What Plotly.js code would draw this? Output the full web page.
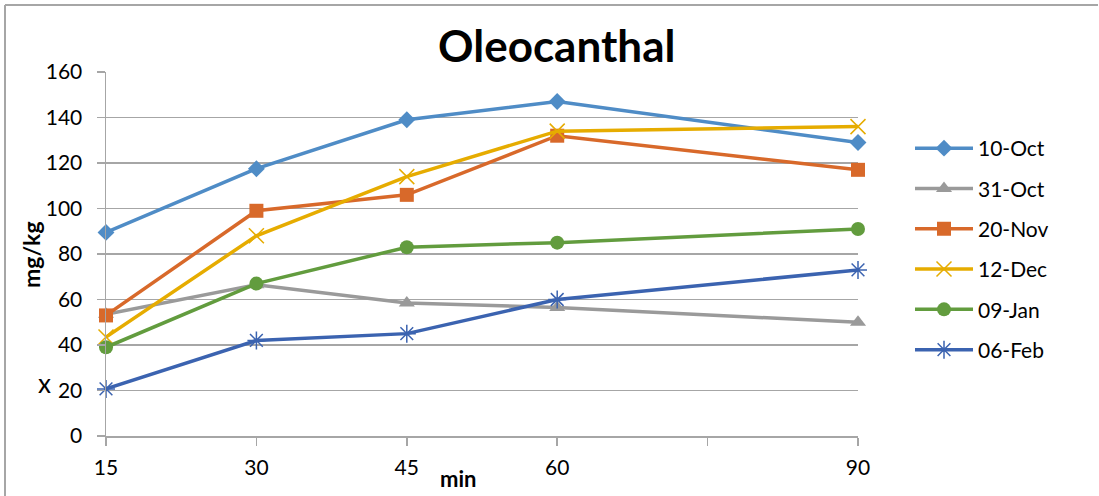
<!DOCTYPE html>
<html>
<head>
<meta charset="utf-8">
<script src="https://cdn.plot.ly/plotly-3.0.1.min.js"></script>
<style>
html,body{margin:0;padding:0;background:#fff;}
#chart{width:1099px;height:496px;}
</style>
</head>
<body>
<div id="chart"></div>
<script>
const minutes = [15, 30, 45, 60, 90];
const seriesNames = ["10-Oct", "31-Oct", "20-Nov", "12-Dec", "09-Jan", "06-Feb"];
const oct10 = [89.5, 117.5, 139, 147, 129];
const oct31 = [53.5, 66.5, 58.5, 56.5, 50];
const nov20 = [53, 99, 106, 132, 117];
const dec12 = [43.5, 88, 114, 134, 136];
const jan09 = [39, 67, 83, 85, 91];
const feb06 = [20.7, 42, 45, 60, 73];
const xTickVals = [15, 30, 45, 60, 75, 90];
const xTickText = ["15", "30", "45", "60", "", "90"];

const values = [oct10, oct31, nov20, dec12, jan09, feb06];
const colors = ["#4F8CC6", "#9A9A9A", "#D8692A", "#E6AC00", "#629C3E", "#3B63B0"];
const symbols = ["diamond", "triangle-up", "square", "x-thin-open", "circle", "asterisk-open"];
const sizes = [13, 14, 14, 15, 14, 15];

const font = "Lato, 'Open Sans', sans-serif";
const traces = seriesNames.map((n, i) => ({
  x: minutes, y: values[i], name: n, type: "scatter", mode: "lines+markers",
  line: {color: colors[i], width: 3.5},
  marker: {symbol: symbols[i], size: sizes[i], color: colors[i], line: {color: colors[i], width: (i===3||i===5)?1.5:0}},
  cliponaxis: false, legendgroup: "g" + i
}));

const L = 106, R = 858, T = 72, B = 436;
const px = v => (v - L) / (R - L);
const py = v => (B - v) / (B - T);

const layout = {
  width: 1099, height: 496,
  margin: {l: L, r: 1099 - R, t: T, b: 496 - B},
  paper_bgcolor: "#fff", plot_bgcolor: "#fff",
  font: {family: font, size: 21, color: "#000"},
  showlegend: true,
  legend: {x: px(910), y: py(128), xanchor: "left", yanchor: "top", font: {size: 21},
           traceorder: "grouped", tracegroupgap: 10, itemwidth: 58, bgcolor: "rgba(0,0,0,0)"},
  xaxis: {range: [15, 90], tickvals: xTickVals, ticktext: xTickText, showgrid: false,
          showline: true, linecolor: "#A6A6A6", linewidth: 1.5, ticks: "outside", ticklen: 8,
          tickcolor: "#A6A6A6", tickwidth: 1.5, zeroline: false, tickfont: {size: 21},
          ticklabelstandoff: 4},
  yaxis: {range: [0, 160], dtick: 20, tick0: 0, showgrid: true, gridcolor: "#A6A6A6", gridwidth: 1.5,
          showline: true, linecolor: "#A6A6A6", linewidth: 1.5, ticks: "outside", ticklen: 8,
          tickcolor: "#A6A6A6", tickwidth: 1.5, zeroline: false, tickfont: {size: 21},
          ticklabelstandoff: 10},
  annotations: [
    {text: "<b>Oleocanthal</b>", xref: "paper", yref: "paper", x: px(556), y: py(45), showarrow: false,
     font: {size: 44}, xanchor: "center", yanchor: "middle"},
    {text: "<b>mg/kg</b>", xref: "paper", yref: "paper", x: px(31), y: py(255), showarrow: false,
     textangle: -90, font: {size: 23}, xanchor: "center", yanchor: "middle"},
    {text: "<b>min</b>", xref: "paper", yref: "paper", x: px(458), y: py(478), showarrow: false,
     font: {size: 22}, xanchor: "center", yanchor: "middle"},
    {text: "x", xref: "paper", yref: "paper", x: px(44), y: py(383), showarrow: false,
     font: {size: 26}, xanchor: "center", yanchor: "middle"}
  ],
  shapes: [
    {type: "line", xref: "paper", yref: "paper", x0: px(5), x1: px(1098), y0: py(5), y1: py(5),
     line: {color: "#A6A6A6", width: 2}},
    {type: "line", xref: "paper", yref: "paper", x0: px(5), x1: px(5), y0: py(5), y1: py(496),
     line: {color: "#A6A6A6", width: 2}}
  ]
};
Plotly.newPlot("chart", traces, layout, {displayModeBar: false, staticPlot: true});
</script>
</body>
</html>
